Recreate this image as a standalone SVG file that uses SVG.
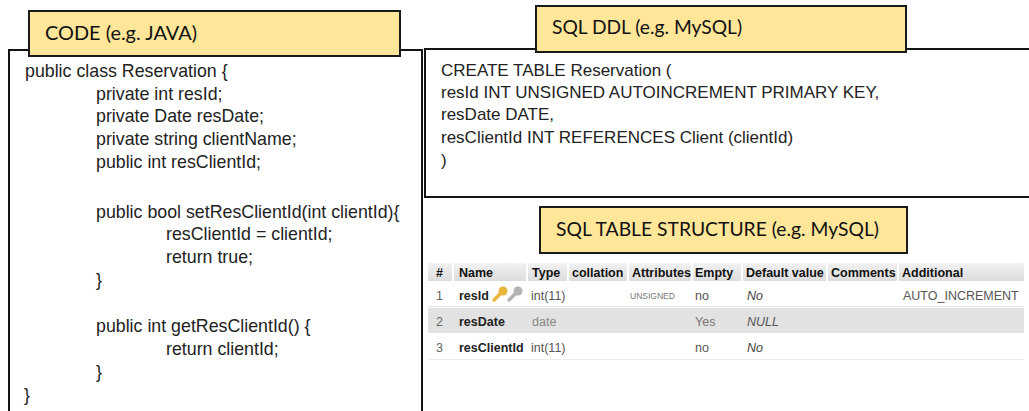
<svg xmlns="http://www.w3.org/2000/svg" width="1029" height="411" viewBox="0 0 1029 411">
<style>
.panel{fill:#fff;stroke:#151515;stroke-width:2}
.lbl{fill:#ffe699;stroke:#1a1a1a;stroke-width:2}
.lt{font-family:Lato,"Open Sans",sans-serif;font-size:20px;fill:#111}
.code{font-family:"Liberation Sans",Arial,sans-serif;font-size:17.8px;fill:#222}
.ddl{font-family:"Liberation Sans",Arial,sans-serif;font-size:17px;fill:#222}
.th{font-family:"Liberation Sans",Arial,sans-serif;font-size:12.5px;font-weight:bold;fill:#111}
.td{font-family:"Liberation Sans",Arial,sans-serif;font-size:12.5px;fill:#555}
.num{font-family:"Liberation Sans",Arial,sans-serif;font-size:12.5px;fill:#666}
.nm{font-family:"Liberation Sans",Arial,sans-serif;font-size:12.5px;font-weight:bold;fill:#222}
.it{font-family:"Liberation Sans",Arial,sans-serif;font-size:12.5px;font-style:italic;fill:#444}
.sm{font-family:"Liberation Sans",Arial,sans-serif;font-size:8.5px;fill:#777}
</style>
<defs>
<linearGradient id="hg" x1="0" y1="0" x2="0" y2="1">
<stop offset="0" stop-color="#f2f2f2"/>
<stop offset="1" stop-color="#dcdcdc"/>
</linearGradient>
</defs>
<rect width="1029" height="411" fill="#fff"/>

<g id="code-panel">
<rect class="panel" x="9" y="50" width="413" height="380"/>
<text class="code" x="25" y="77">public class Reservation {</text>
<text class="code" x="96" y="100">private int resId;</text>
<text class="code" x="96" y="122">private Date resDate;</text>
<text class="code" x="96" y="145">private string clientName;</text>
<text class="code" x="96" y="168">public int resClientId;</text>
<text class="code" x="96" y="218">public bool setResClientId(int clientId){</text>
<text class="code" x="166" y="240">resClientId = clientId;</text>
<text class="code" x="166" y="263">return true;</text>
<text class="code" x="96" y="286">}</text>
<text class="code" x="96" y="332">public int getResClientId() {</text>
<text class="code" x="166" y="355">return clientId;</text>
<text class="code" x="96" y="378">}</text>
<text class="code" x="24" y="401">}</text>
</g>

<g id="code-label">
<rect class="lbl" x="29" y="11" width="371" height="45"/>
<text class="lt" x="45" y="40" textLength="152" lengthAdjust="spacingAndGlyphs">CODE (e.g. JAVA)</text>
</g>

<g id="ddl-panel">
<rect class="panel" x="425" y="49" width="620" height="148"/>
<text class="ddl" x="441" y="76">CREATE TABLE Reservation (</text>
<text class="ddl" x="441" y="98">resId INT UNSIGNED AUTOINCREMENT PRIMARY KEY,</text>
<text class="ddl" x="441" y="120">resDate DATE,</text>
<text class="ddl" x="441" y="143">resClientId INT REFERENCES Client (clientId)</text>
<text class="ddl" x="441" y="166">)</text>
</g>

<g id="ddl-label">
<rect class="lbl" x="536" y="6" width="370" height="46"/>
<text class="lt" x="552" y="34" textLength="190" lengthAdjust="spacingAndGlyphs">SQL DDL (e.g. MySQL)</text>
</g>

<g id="table-label">
<rect class="lbl" x="540" y="207" width="367" height="46"/>
<text class="lt" x="556" y="236" textLength="323" lengthAdjust="spacingAndGlyphs">SQL TABLE STRUCTURE (e.g. MySQL)</text>
</g>

<g id="table-structure">
<rect x="428" y="263" width="596" height="18" fill="url(#hg)"/>
<g fill="#fff">
<rect x="452" y="263" width="2" height="18"/>
<rect x="526" y="263" width="2" height="18"/>
<rect x="567" y="263" width="2" height="18"/>
<rect x="627" y="263" width="2" height="18"/>
<rect x="691" y="263" width="2" height="18"/>
<rect x="741" y="263" width="2" height="18"/>
<rect x="826" y="263" width="2" height="18"/>
<rect x="897" y="263" width="2" height="18"/>
</g>
<text class="th" x="436" y="277">#</text>
<text class="th" x="459" y="277">Name</text>
<text class="th" x="532" y="277">Type</text>
<text class="th" x="572" y="277">collation</text>
<text class="th" x="632" y="277">Attributes</text>
<text class="th" x="695" y="277">Empty</text>
<text class="th" x="746" y="277">Default value</text>
<text class="th" x="831" y="277">Comments</text>
<text class="th" x="902" y="277">Additional</text>

<line x1="428" y1="306.5" x2="1024" y2="306.5" stroke="#e6e6e6"/>
<text class="num" x="436" y="300">1</text>
<text class="nm" x="459" y="300">resId</text>
<g id="key-gold">
<circle cx="503" cy="291" r="4.5" fill="#e8b63a"/>
<line x1="500" y1="294" x2="494" y2="300" stroke="#e8b63a" stroke-width="3.5" stroke-linecap="round"/>
</g>
<g id="key-gray">
<circle cx="518" cy="291" r="4.5" fill="#b4b4b4"/>
<line x1="515" y1="294" x2="509" y2="300" stroke="#b4b4b4" stroke-width="3.5" stroke-linecap="round"/>
</g>
<text class="td" x="531" y="300">int(11)</text>
<text class="sm" x="630" y="299">UNSIGNED</text>
<text class="td" x="695" y="300">no</text>
<text class="it" x="747" y="300">No</text>
<text class="td" x="903" y="300">AUTO_INCREMENT</text>

<rect x="428" y="308" width="596" height="25" fill="#e2e2e2"/>
<text class="num" x="436" y="326">2</text>
<text class="nm" x="459" y="326">resDate</text>
<text class="td" x="532" y="326" style="fill:#888">date</text>
<text class="td" x="695" y="326" style="fill:#777">Yes</text>
<text class="it" x="747" y="326" style="fill:#555">NULL</text>

<text class="num" x="436" y="352">3</text>
<text class="nm" x="459" y="352">resClientId</text>
<text class="td" x="531" y="352">int(11)</text>
<text class="td" x="695" y="352">no</text>
<text class="it" x="747" y="352">No</text>
<line x1="428" y1="359.5" x2="1024" y2="359.5" stroke="#eeeeee"/>
</g>

<g id="connectors"/>
</svg>
